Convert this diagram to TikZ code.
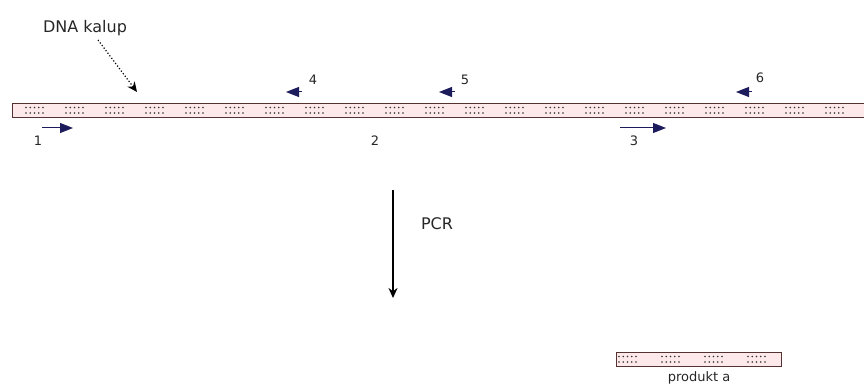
\documentclass[tikz,border=0pt]{standalone}
\usepackage{fontspec}
\setmainfont{DejaVu Sans}
\usetikzlibrary{arrows.meta,positioning,calc}
\definecolor{strandfill}{RGB}{253,233,233}
\definecolor{strandline}{RGB}{85,50,50}
\definecolor{primer}{RGB}{28,28,92}
\definecolor{dotc}{RGB}{50,50,50}
\tikzset{
  strand/.style={draw=strandline,fill=strandfill,line width=1pt,minimum height=14pt,inner sep=0pt},
  lbl/.style={font=\fontsize{13}{15}\selectfont,inner sep=1pt,text=black!85},
  biglbl/.style={font=\fontsize{16}{18}\selectfont,inner sep=1pt,text=black!85},
  fwd/.style={-{Triangle[length=13pt,width=10pt]},primer,line width=1pt},
  rev/.style={{Triangle[length=13pt,width=10pt]}-,primer,line width=1pt},
  pcr/.style={-{Stealth[length=10pt,width=9pt]},line width=2.4pt},
  hint/.style={-{Stealth[length=10pt,width=9pt]},dotted,line width=1.2pt},
}
\newcommand{\dotgroup}[1]{% five dots over two rows
  \foreach \d in {0,...,4}{
    \fill[dotc] ($#1+(\d*4.25,-2.5)$) circle (0.95);
    \fill[dotc] ($#1+(\d*4.25,3)$) circle (0.95);
  }}

\begin{document}
\begin{tikzpicture}[x=1pt,y=-1pt]
  \useasboundingbox (0,0) rectangle (864,385);
  \clip (0,0) rectangle (864,385);

  % template strand
  \node[strand,minimum width=870pt,anchor=north west] (templ) at (12,103) {};
  \foreach \g in {0,...,20}{\dotgroup{(26+\g*40,110)}}

  % label of the template
  \node[biglbl] (kalup) at (85,28) {DNA kalup};
  \coordinate (kalupend) at (137,92);
  \draw[hint] ([xshift=13pt,yshift=-3pt]kalup.south) -- (kalupend);

  % forward primers
  \node[lbl] (n1) at (38,141) {1};
  \draw[fwd] (42,128) -- (73,128);
  \node[lbl] (n3) at (634,141) {3};
  \draw[fwd] (620,128) -- (666,128);
  \node[lbl] (n2) at (375,141) {2};

  % reverse primers
  \node[lbl] (n4) at (313,80) {4};
  \draw[rev] (286,92) -- (302,92);
  \node[lbl] (n5) at (465,80) {5};
  \draw[rev] (439,92) -- (455,92);
  \node[lbl] (n6) at (760,78) {6};
  \draw[rev] (736,92) -- (752,92);

  % PCR step
  \coordinate (pcrtop) at (393,190);
  \coordinate (pcrbot) at (393,298);
  \draw[pcr] (pcrtop) -- (pcrbot);
  \node[biglbl] (pcr) at (437,224) {PCR};

  % product
  \node[strand,minimum width=165pt,anchor=north west] (prod) at (616,352) {};
  \foreach \g in {0,...,3}{\dotgroup{(619+\g*43,359)}}
  \node[lbl,below=3pt of prod] (prodlbl) {produkt a};
\end{tikzpicture}
\end{document}
